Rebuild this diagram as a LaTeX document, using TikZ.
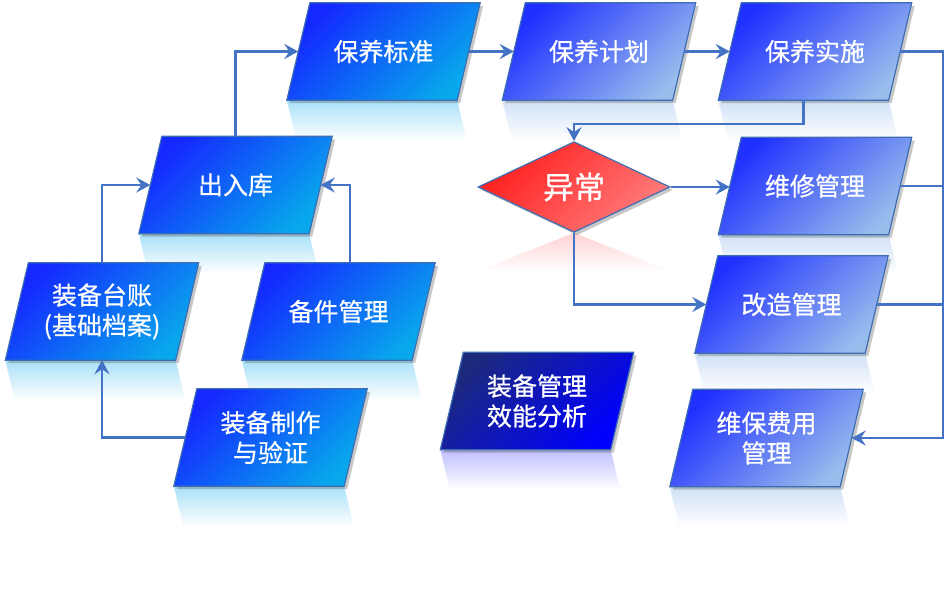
\documentclass[tikz,border=0pt]{standalone}
\usepackage{fontspec}
\newfontfamily\cjk[FakeBold=0.6]{Noto Sans CJK SC}
\usetikzlibrary{calc,shadows,arrows.meta,shapes.geometric}
\pgfdeclarelayer{bgzero}
\pgfdeclarelayer{bgone}
\pgfsetlayers{bgzero,bgone,main}
\definecolor{aTL}{HTML}{1428FF}
\definecolor{aBR}{HTML}{08A8EC}
\definecolor{bTL}{HTML}{2030FF}
\definecolor{bBR}{HTML}{98BCEC}
\definecolor{cTL}{HTML}{1C2A7C}
\definecolor{cBR}{HTML}{0000FF}
\definecolor{dTL}{HTML}{FF1E1E}
\definecolor{dBR}{HTML}{FF7C7C}
\definecolor{edgec}{HTML}{3F6DB2}
\definecolor{linec}{HTML}{4472C4}
\tikzset{
  boxtext/.style={shape=rectangle, minimum width=170pt, minimum height=97pt, inner sep=0pt,
    text=white, font=\cjk\fontsize{25}{30}\selectfont, align=center},
  shad/.style={drop shadow={shadow xshift=3pt, shadow yshift=-3pt, opacity=.3, fill=black!70}},
  fillA/.style={draw=edgec, line width=1.2pt, top color=aTL, bottom color=aBR, shading angle=45, shad},
  fillB/.style={draw=edgec, line width=1.2pt, top color=bTL, bottom color=bBR, shading angle=45, shad},
  fillC/.style={draw=edgec, line width=1.2pt, top color=cTL, bottom color=cBR, shading angle=45, shad},
  reflA/.style={top color=aBR!35, bottom color=white},
  reflB/.style={top color=bBR!45, bottom color=white},
  reflC/.style={top color=cBR!25, bottom color=white},
  conn/.style={draw=linec, line width=2.2pt, -{Stealth[length=14pt,width=15pt,inset=5pt]}},
  plain/.style={draw=linec, line width=2.2pt},
}
\newcommand\pbox[4]{%
  \node[boxtext] (#1) at (#2) {#4};
  \begin{pgfonlayer}{bgone}
    \path[fill#3] ($(#1.north west)+(11.5,0)$) -- ($(#1.north east)+(11.5,0)$)
      -- ($(#1.south east)+(-11.5,0)$) -- ($(#1.south west)+(-11.5,0)$) -- cycle;
  \end{pgfonlayer}
  \begin{pgfonlayer}{bgzero}
    \path[refl#3] ($(#1.south west)+(-11.5,0)$) -- ($(#1.south east)+(-11.5,0)$)
      -- ($(#1.south east)+(-2,40)$) -- ($(#1.south west)+(-2,40)$) -- cycle;
  \end{pgfonlayer}
}
\begin{document}
\begin{tikzpicture}[x=1pt,y=-1pt]
\begin{pgfonlayer}{bgzero}
\fill[white] (0,0) rectangle (944,589);
\end{pgfonlayer}
\useasboundingbox (0,0) rectangle (944,589);
\coordinate (rt) at (943,0);

\pbox{bybz}{383.5,51.5}{A}{保养标准}
\pbox{byjh}{599,51.5}{B}{保养计划}
\pbox{byss}{815,51.5}{B}{保养实施}
\pbox{crk}{235.5,185}{A}{出入库}
\pbox{zbtz}{102,311.5}{A}{装备台账\\(基础档案)}
\pbox{bjgl}{338.5,311.5}{A}{备件管理}
\pbox{zbzz}{270.5,437.5}{A}{装备制作\\与验证}
\pbox{xnfx}{537,401}{C}{装备管理\\效能分析}
\pbox{wxgl}{815,186}{B}{维修管理}
\pbox{gzgl}{791.5,304.5}{B}{改造管理}
\pbox{wbfy}{766.5,438}{B}{维保费用\\管理}

\node[diamond, minimum width=192pt, minimum height=77pt, inner sep=0pt,
  draw=edgec, line width=1.2pt, top color=dTL, bottom color=dBR, shading angle=45, shad,
  text=white, font=\cjk\fontsize{31}{36}\selectfont] (yc) at (574,187) {异常};
\begin{pgfonlayer}{bgzero}
  \path[top color=dBR!35, bottom color=white] (yc.south) -- ($(yc.south)+(96,38)$) -- ($(yc.south)+(-96,38)$) -- cycle;
\end{pgfonlayer}

% connectors
\draw[conn] (crk.center |- crk.north) |- (bybz.west);
\draw[conn] (bybz.east) -- (byjh.west);
\draw[conn] (byjh.east) -- (byss.west);
\draw[conn] (byss.east) -- (byss.east -| rt) |- (wbfy.east);
\draw[plain] (wxgl.east) -- (wxgl.east -| rt);
\draw[plain] (gzgl.east) -- (gzgl.east -| rt);
\draw[conn] ($(byss.south)+(-11.5,0)$) -- ++(0,24) -| (yc.north);
\draw[conn] (yc.east) -- (yc.east -| wxgl.west);
\draw[conn] (yc.south) |- (gzgl.west);
\draw[conn] (zbtz.center |- zbtz.north) |- (crk.west);
\draw[conn] ($(bjgl.north)+(11.5,0)$) |- (crk.east);
\draw[conn] (zbzz.west) -| (zbtz.center |- zbtz.south);
\end{tikzpicture}
\end{document}
